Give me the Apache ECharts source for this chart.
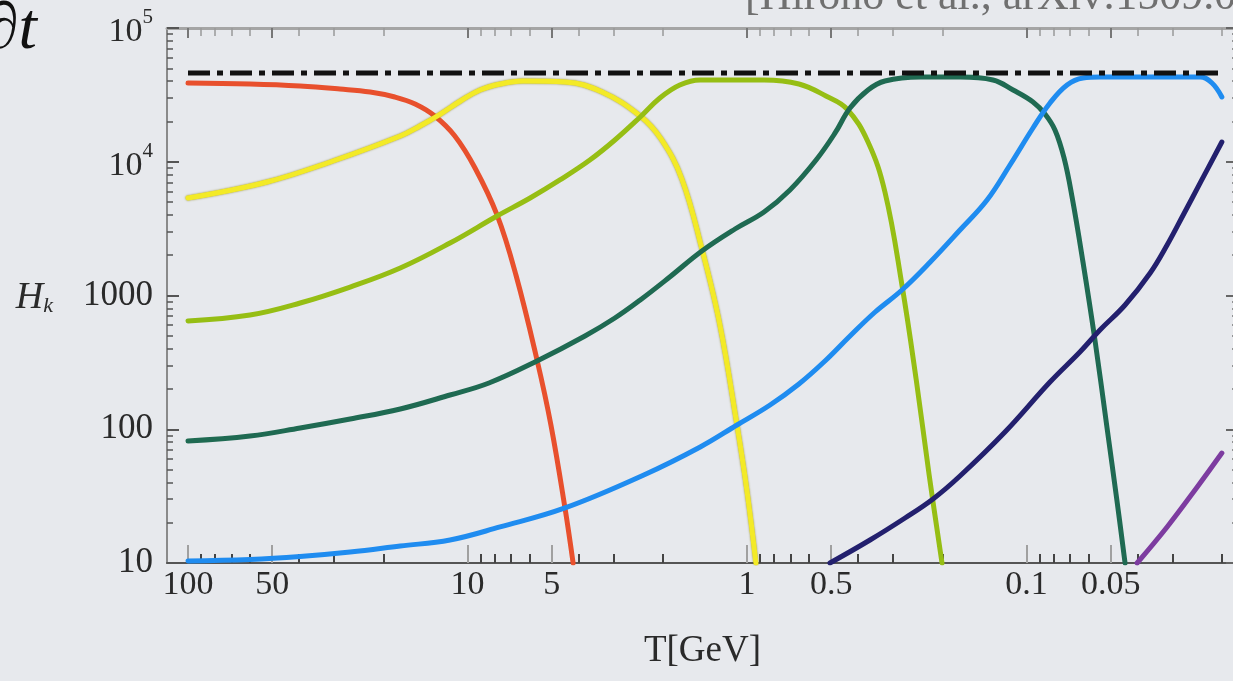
<!DOCTYPE html>
<html><head><meta charset="utf-8">
<script src="https://cdn.jsdelivr.net/npm/echarts@6/dist/echarts.min.js"></script>
<style>html,body{margin:0;padding:0;overflow:hidden;background:#e7e9ed}#c{width:1233px;height:681px}</style>
</head><body><div id="c"></div><script>
// ---- data (T in GeV, H_k) ----
const redT = [100, 60.0, 39.7, 28.6, 22.3, 18.2, 15.4, 13.1, 11.1, 9.40, 7.84, 6.71, 5.64, 5.03, 4.48, 4.19];
const redH = [38800, 38130, 36850, 34990, 33220, 30490, 27030, 21990, 15580, 8980, 4000, 1423, 329.5, 107.6, 25.8, 10];

const yellowT = [100, 52.2, 30.3, 17.4, 14.8, 12.5, 10.6, 9.02, 7.65, 6.33, 4.48, 3.30, 2.41, 2.03, 1.71, 1.45, 1.25, 1.086, 1.0, 0.929];
const yellowH = [5358, 7060, 10130, 15580, 18510, 22750, 28460, 34390, 38130, 40150, 39470, 33220, 21990, 14800, 7430, 2227, 602, 107.6, 34.5, 10];

const oliveT = [100, 60.0, 39.7, 26.3, 17.4, 11.55, 7.84, 5.97, 4.67, 3.65, 2.97, 2.41, 2.05, 1.74, 1.47, 0.869, 0.652, 0.522, 0.439, 0.369, 0.321, 0.279, 0.248, 0.223, 0.2006];
const oliveH = [645, 715, 879, 1157, 1605, 2469, 3930, 5358, 7310, 10300, 14540, 21610, 29970, 37480, 40870, 40870, 38130, 31010, 24800, 14050, 5940, 1198, 233.5, 45.5, 10];

const dgreenT = [100, 60.0, 39.7, 26.3, 17.4, 11.55, 8.38, 5.64, 3.80, 2.97, 2.41, 1.89, 1.45, 1.104, 0.869, 0.702, 0.566, 0.484, 0.428, 0.369, 0.321, 0.240, 0.173, 0.1318, 0.1117, 0.0948, 0.0859, 0.0791, 0.0734, 0.0687, 0.0628, 0.0569, 0.0515, 0.0475, 0.0444];
const dgreenH = [81.7, 89.0, 102.2, 119.3, 141.7, 180.3, 221.7, 323.8, 498, 678.6, 925.5, 1375, 2151, 3142, 4210, 6150, 10300, 16410, 25230, 34390, 40150, 43000, 43000, 40870, 34390, 27980, 22750, 17280, 10670, 5451, 1780, 464.8, 102.2, 29.6, 10];

const blueT = [100, 60.0, 39.7, 26.3, 17.4, 11.55, 7.65, 4.48, 2.34, 1.47, 1.086, 0.827, 0.652, 0.526, 0.428, 0.348, 0.279, 0.221, 0.173, 0.1384, 0.1146, 0.0948, 0.0824, 0.0716, 0.0628, 0.0546, 0.0239, 0.0217, 0.0200];
const blueH = [10.35, 10.62, 11.18, 12.08, 13.4, 14.86, 18.6, 25.8, 45.5, 73.7, 107.6, 151.8, 217.9, 323.8, 498, 752.7, 1099, 1780, 3088, 5176, 9456, 17880, 27500, 37480, 42300, 43000, 43000, 38800, 30490];

const navyT = [0.505, 0.363, 0.272, 0.216, 0.173, 0.1194, 0.0824, 0.0644, 0.0546, 0.0444, 0.0361, 0.0314, 0.0275, 0.0236, 0.0200];
const navyH = [10, 14.86, 21.7, 30.1, 44.7, 95.4, 225.5, 378.1, 552, 849, 1473, 2386, 4000, 7310, 14050];

const purpleT = [0.0402, 0.0314, 0.0245, 0.0200];
const purpleH = [10, 18.6, 37.0, 66.4];

const boundT = [100, 0.02];
const boundH = [46100, 46100];

// ---- ticks ----
const xLabelTicks = [100, 50, 10, 5, 1, 0.5, 0.1, 0.05];
const xMinorTicks = [90, 80, 70, 60, 40, 30, 20, 9, 8, 7, 6, 4, 3, 2, 0.9, 0.8, 0.7, 0.6, 0.4, 0.3, 0.2, 0.09, 0.08, 0.07, 0.06, 0.04, 0.03, 0.02];
const yMajorTicks = [10, 100, 1000, 10000, 100000];
const yMinorTicks = [20, 30, 40, 50, 60, 70, 80, 90, 200, 300, 400, 500, 600, 700, 800, 900, 2000, 3000, 4000, 5000, 6000, 7000, 8000, 9000, 20000, 30000, 40000, 50000, 60000, 70000, 80000, 90000];

const pairs = (t, h) => t.map((v, i) => [v, h[i]]);
const SERIF = "'Liberation Serif','DejaVu Serif',serif";
const TXT = '#2a2a2a';
const X_MIN = 0.01751, X_MAX = 118.9;

const chart = echarts.init(document.getElementById('c'), null, {renderer: 'canvas'});

function xAx(extra) {
  return Object.assign({
    type: 'log', logBase: 10, inverse: true, min: X_MIN, max: X_MAX,
    gridIndex: 0, splitLine: {show: false}, axisLabel: {show: false},
    axisLine: {show: false}, axisTick: {show: false}
  }, extra);
}
function yAx(extra) {
  return Object.assign({
    type: 'log', logBase: 10, min: 10, max: 100000,
    gridIndex: 0, splitLine: {show: false}, axisLabel: {show: false},
    axisLine: {show: false}, axisTick: {show: false}
  }, extra);
}

const line = (name, t, h, color, extraStyle) => ({
  name, type: 'line', data: pairs(t, h), showSymbol: false, symbol: 'none',
  smooth: 0.4, clip: true, z: 2,
  lineStyle: Object.assign({color, width: 5, cap: 'round', join: 'round'}, extraStyle || {})
});

chart.setOption({
  animation: false,
  backgroundColor: '#e7e9ed',
  grid: {left: 167, top: 28, right: -5, bottom: 118, containLabel: false, outerBoundsMode: 'none'},
  xAxis: [
    xAx({position: 'bottom',
      name: 'T[GeV]', nameLocation: 'middle', nameGap: 70,
      nameTextStyle: {fontFamily: SERIF, fontSize: 37, color: TXT},
      axisLine: {show: true, onZero: false, lineStyle: {color: '#555', width: 2}},
      axisTick: {show: true, inside: true, length: 18, customValues: xLabelTicks, lineStyle: {color: '#a0a0a0', width: 2}},
      axisLabel: {show: true, customValues: xLabelTicks, margin: 5, fontFamily: SERIF, fontSize: 34, color: TXT,
        formatter: v => String(parseFloat(Number(v).toPrecision(6)))}
    }),
    xAx({position: 'bottom',
      axisTick: {show: true, inside: true, length: 9, customValues: xMinorTicks, lineStyle: {color: '#444', width: 2}}
    }),
    xAx({position: 'top',
      axisLine: {show: true, onZero: false, lineStyle: {color: '#a5a5a5', width: 3}},
      axisTick: {show: true, inside: true, length: 10, customValues: xLabelTicks, lineStyle: {color: '#777', width: 2}}
    }),
    xAx({position: 'top',
      axisTick: {show: true, inside: true, length: 8, customValues: xMinorTicks, lineStyle: {color: '#999', width: 1.5}}
    })
  ],
  yAxis: [
    yAx({position: 'left',
      name: '{h|H}{k|k}', nameLocation: 'middle', nameRotate: 0, nameGap: 114,
      nameTextStyle: {rich: {
        h: {fontFamily: SERIF, fontStyle: 'italic', fontSize: 38, color: TXT, verticalAlign: 'bottom', lineHeight: 44},
        k: {fontFamily: SERIF, fontStyle: 'italic', fontSize: 22, color: TXT, verticalAlign: 'bottom', lineHeight: 32}
      }},
      axisLine: {show: true, onZero: false, lineStyle: {color: '#8a8a8a', width: 2}},
      axisTick: {show: true, inside: true, length: 12, customValues: yMajorTicks, lineStyle: {color: '#555', width: 2}},
      axisLabel: {show: true, customValues: yMajorTicks, margin: 14,
        formatter: v => {
          const e = Math.round(Math.log10(v));
          return e >= 4 ? '{b|10}{s|' + e + '}' : '{n|' + Math.round(Math.pow(10, e)) + '}';
        },
        rich: {
          n: {fontFamily: SERIF, fontSize: 35, color: TXT},
          b: {fontFamily: SERIF, fontSize: 34, color: TXT, verticalAlign: 'bottom', lineHeight: 42},
          s: {fontFamily: SERIF, fontSize: 21, color: TXT, verticalAlign: 'top', lineHeight: 21}
        }
      }
    }),
    yAx({position: 'left',
      axisTick: {show: true, inside: true, length: 6, customValues: yMinorTicks, lineStyle: {color: '#555', width: 1.5}}
    }),
    yAx({position: 'right',
      axisLine: {show: true, onZero: false, lineStyle: {color: '#8a8a8a', width: 2}},
      axisTick: {show: true, inside: true, length: 12, customValues: yMajorTicks, lineStyle: {color: '#666', width: 2}}
    }),
    yAx({position: 'right',
      axisTick: {show: true, inside: true, length: 6, customValues: yMinorTicks, lineStyle: {color: '#777', width: 1.5}}
    })
  ],
  graphic: [
    {type: 'text', left: 745, top: -25, silent: true,
      style: {text: '[Hirono et al., arXiv:1509.07790]', font: "44px 'Liberation Serif', serif", fill: '#707070'}},
    {type: 'text', left: -14, top: -2, silent: true,
      style: {text: '\u2202t', font: "italic 66px 'Liberation Serif', serif", fill: '#111'}}
  ],
  series: [
    line('red', redT, redH, '#e8502d'),
    line('yellow', yellowT, yellowH, '#f3ea27', {shadowColor: 'rgba(130,120,0,0.75)', shadowBlur: 2}),
    line('olive', oliveT, oliveH, '#96be14'),
    line('darkgreen', dgreenT, dgreenH, '#1f6a52'),
    line('blue', blueT, blueH, '#1f8cf0'),
    line('navy', navyT, navyH, '#23206e'),
    line('purple', purpleT, purpleH, '#7d3ca0'),
    {name: 'bound', type: 'line', data: pairs(boundT, boundH), showSymbol: false, symbol: 'none', z: 5,
      lineStyle: {color: '#111', width: 5, type: [22, 7, 6, 7]}}
  ]
});
</script></body></html>
